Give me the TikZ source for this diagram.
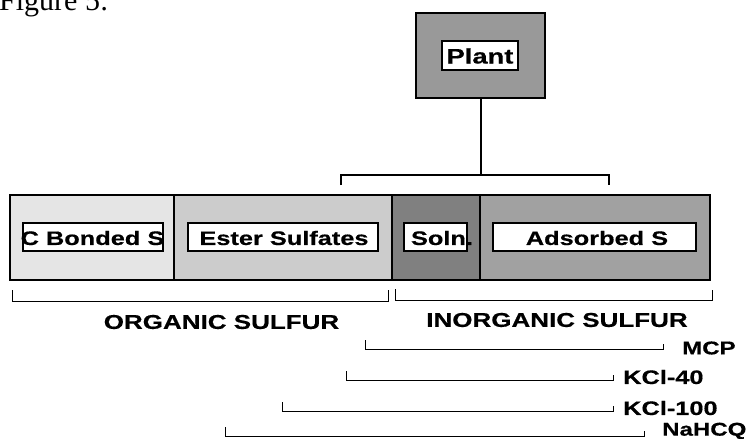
\documentclass[tikz,border=0pt]{standalone}
\usepackage{fontspec}
\newfontfamily\labfont[FakeStretch=1.3,FakeBold=0.5]{Liberation Sans Bold}
\newfontfamily\figfont{Liberation Serif}
\begin{document}
\begin{tikzpicture}[x=1pt,y=-1pt,
  outerbox/.style={draw=black,line width=1.6pt,minimum height=85pt,inner sep=0pt,anchor=center},
  innerbox/.style={draw=black,fill=white,line width=1.4pt,minimum height=28pt,inner sep=0pt},
  lab/.style={font=\labfont\fontsize{19.5}{21}\selectfont,inner sep=0pt},
  brk/.style={draw=black,line width=0.9pt}]
\useasboundingbox (0,0) rectangle (753,439);
% title (cut off at the top)
\node[font=\figfont\fontsize{30}{32}\selectfont,anchor=base west,inner sep=0pt] (title) at (-1,10) {Figure 5:};
% plant
\node[outerbox,fill=black!40,minimum width=129pt] (plant) at (480.5,55.5) {};
\node[innerbox,minimum width=76pt,minimum height=29pt] (plantin) at (480,55.5) {};
\node[lab,font=\labfont\fontsize{21}{23}\selectfont] (planttxt) at (480,56) {Plant};
% soil pools
\node[outerbox,fill=black!10,minimum width=164pt] (cb) at (92,237.5) {};
\node[outerbox,fill=black!20,minimum width=218pt] (es) at (283,237.5) {};
\node[outerbox,fill=black!50,minimum width=88pt] (so) at (436,237.5) {};
\node[outerbox,fill=black!37,minimum width=230pt] (ad) at (595,237.5) {};
\node[innerbox,minimum width=140pt] (cbin) at (93,237) {};
\node[innerbox,minimum width=190pt] (esin) at (283,237) {};
\node[innerbox,minimum width=63pt] (soin) at (435.5,237) {};
\node[innerbox,minimum width=203pt] (adin) at (594.5,237) {};
\node[lab] (cbtxt) at (92.5,238) {C Bonded S};
\node[lab] (estxt) at (284,238) {Ester Sulfates};
\node[lab] (sotxt) at (442,238) {Soln.};
\node[lab] (adtxt) at (597,238) {Adsorbed S};
% plant connector and bracket
\coordinate (pb) at (481,175);
\coordinate (pl) at (341,175);
\coordinate (pr) at (609,175);
\draw[brk,line width=1.2pt] (plant.south -| pb) -- (pb);
\draw[brk,line width=1.2pt] ([yshift=-10pt]pl) -- (pl) -- (pr) -- ([yshift=-10pt]pr);
% organic / inorganic brackets
\coordinate (ol) at (12,301);
\coordinate (or) at (388,301);
\coordinate (il) at (395,300);
\coordinate (ir) at (712,300);
\draw[brk] ([yshift=11pt]ol) -- (ol) -- (or) -- ([yshift=11pt]or);
\draw[brk] ([yshift=11pt]il) -- (il) -- (ir) -- ([yshift=10pt]ir);
\node[lab,font=\labfont\fontsize{20}{22}\selectfont] (org) at (221.5,322) {ORGANIC SULFUR};
\node[lab,font=\labfont\fontsize{20}{22}\selectfont] (inorg) at (557,320) {INORGANIC SULFUR};
% extraction brackets
\coordinate (m1) at (365,349);
\coordinate (m2) at (663,349);
\coordinate (k1) at (346,380);
\coordinate (k2) at (613,380);
\coordinate (h1) at (282,411);
\coordinate (h2) at (613,411);
\coordinate (n1) at (225,436);
\coordinate (n2) at (644,436);
\draw[brk] ([yshift=9pt]m1) -- (m1) -- (m2) -- ([yshift=5pt]m2);
\draw[brk] ([yshift=9pt]k1) -- (k1) -- (k2) -- ([yshift=5pt]k2);
\draw[brk] ([yshift=9pt]h1) -- (h1) -- (h2) -- ([yshift=5pt]h2);
\draw[brk] ([yshift=9pt]n1) -- (n1) -- (n2) -- ([yshift=5pt]n2);
\node[lab,anchor=west,font=\labfont\fontsize{18.5}{20}\selectfont] (mcp) at (682,348) {MCP};
\node[lab,anchor=west] (k40) at (623,377) {KCl-40};
\node[lab,anchor=west] (k100) at (623,408) {KCl-100};
\node[lab,anchor=west,font=\labfont\fontsize{18.5}{20}\selectfont] (nah) at (662,431) {NaHCQ};
\end{tikzpicture}
\end{document}
